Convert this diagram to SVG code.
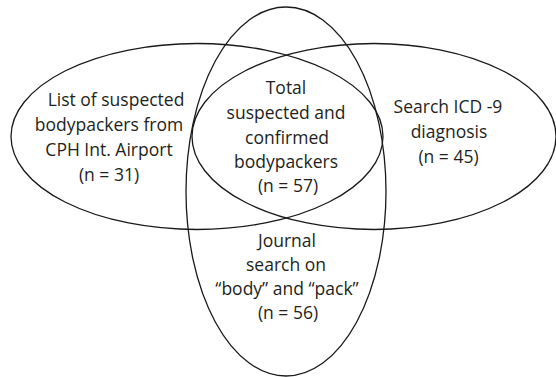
<svg xmlns="http://www.w3.org/2000/svg" width="556" height="377" viewBox="0 0 556 377">
<style>
.set{fill:none;stroke:#1a1a1a;stroke-width:1.3}
.lbl{font-family:"Open Sans","Noto Sans","Liberation Sans",sans-serif;font-size:17.5px;fill:#231f20;text-anchor:middle}
</style>
<rect width="556" height="377" fill="#ffffff"/>
<g id="connectors"></g>
<g id="set-airport">
<ellipse class="set" cx="197" cy="136.5" rx="186" ry="93"/>
<text class="lbl"><tspan x="116" y="106">List of suspected</tspan><tspan x="109" y="131">bodypackers from</tspan><tspan x="109" y="156">CPH Int. Airport</tspan><tspan x="109" y="180.5">(n = 31)</tspan></text>
</g>
<g id="set-icd9">
<ellipse class="set" cx="374" cy="136.5" rx="182" ry="93"/>
<text class="lbl"><tspan x="448" y="113">Search ICD -9</tspan><tspan x="449" y="138">diagnosis</tspan><tspan x="448.5" y="163">(n = 45)</tspan></text>
</g>
<g id="set-journal">
<ellipse class="set" cx="286" cy="191.5" rx="100" ry="184.5"/>
<text class="lbl"><tspan x="287" y="247">Journal</tspan><tspan x="286" y="271">search on</tspan><tspan x="287" y="295">“body” and “pack”</tspan><tspan x="288" y="318.5">(n = 56)</tspan></text>
</g>
<g id="total">
<text class="lbl"><tspan x="286" y="94">Total</tspan><tspan x="286" y="119">suspected and</tspan><tspan x="287" y="144">confirmed</tspan><tspan x="286" y="168">bodypackers</tspan><tspan x="288" y="192">(n = 57)</tspan></text>
</g>
</svg>
